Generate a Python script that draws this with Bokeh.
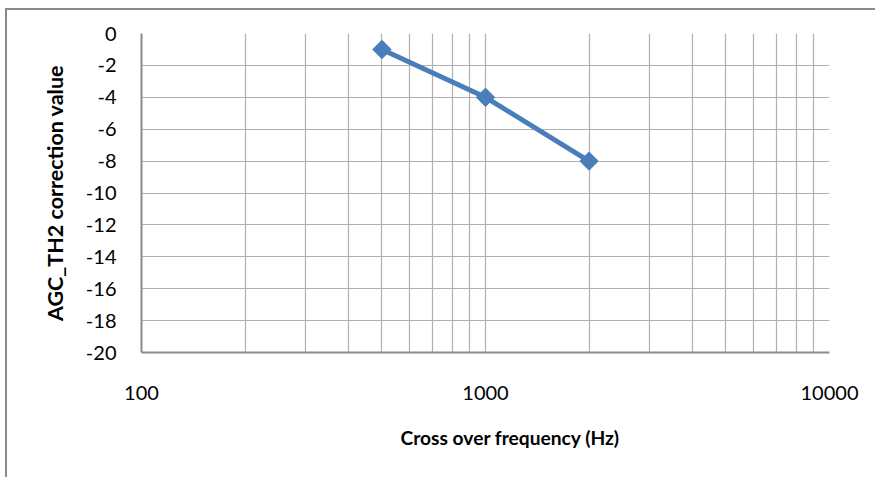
from bokeh.plotting import figure
from bokeh.models import Range1d, FixedTicker, Title, CustomJSTickFormatter
from bokeh.embed import file_html
from bokeh.resources import INLINE

# data
freq_hz = [500, 1000, 2000]
agc_th2_correction = [-1, -4, -8]

x_major_ticks = [100, 1000, 10000]
x_minor_ticks = [200, 300, 400, 500, 600, 700, 800, 900,
                 2000, 3000, 4000, 5000, 6000, 7000, 8000, 9000]
y_ticks = [0, -2, -4, -6, -8, -10, -12, -14, -16, -18, -20]

x_title = "Cross over frequency (Hz)"
y_title = "AGC_TH2 correction value"

FONT = "Lato"
GRID = "#b0b0b0"
AXIS = "#8a8a8a"
BLUE = "#4a7ebb"

p = figure(width=870, height=469, x_axis_type="log",
           x_range=Range1d(100, 10000), y_range=Range1d(-20, 0),
           output_backend="svg", toolbar_location=None,
           min_border_left=134, min_border_right=48,
           min_border_top=23, min_border_bottom=127)
p.outline_line_color = None
p.background_fill_color = "white"
p.border_fill_color = "white"
p.styles = {"margin-left": "5px", "margin-top": "8px",
            "border-left": "2px solid #8a8a8a", "border-top": "2px solid #8a8a8a"}

xt = FixedTicker(ticks=x_major_ticks, minor_ticks=x_minor_ticks)
p.xaxis.ticker = xt
p.xgrid.ticker = xt
p.yaxis.ticker = FixedTicker(ticks=y_ticks)
p.ygrid.ticker = FixedTicker(ticks=y_ticks)

p.xgrid.grid_line_color = GRID
p.xgrid.grid_line_width = 1.2
p.xgrid.minor_grid_line_color = GRID
p.xgrid.minor_grid_line_width = 1.2
p.ygrid.grid_line_color = GRID
p.ygrid.grid_line_width = 1.2

for ax in (p.xaxis, p.yaxis):
    ax.axis_line_color = AXIS
    ax.axis_line_width = 2
    ax.major_tick_out = 0
    ax.major_tick_in = 0
    ax.minor_tick_out = 0
    ax.minor_tick_in = 0
    ax.major_label_text_font = FONT
    ax.major_label_text_font_size = "20px"
    ax.major_label_text_color = "#000000"
    ax.formatter = CustomJSTickFormatter(code="return tick.toFixed(0);")

p.xaxis.major_label_standoff = 33
p.yaxis.major_label_standoff = 25

p.yaxis.axis_label = y_title
p.yaxis.axis_label_text_font = FONT
p.yaxis.axis_label_text_font_style = "bold"
p.yaxis.axis_label_text_font_size = "21.5px"
p.yaxis.axis_label_text_color = "#000000"
p.yaxis.axis_label_standoff = 15

t = Title(text=x_title, align="left", offset=259, standoff=43,
          text_font=FONT, text_font_style="bold", text_font_size="19.2px",
          text_color="#000000")
p.add_layout(t, "below")

p.line(freq_hz, agc_th2_correction, line_color=BLUE, line_width=5)
p.scatter(freq_hz, agc_th2_correction, marker="square", angle=0.785398,
          size=13, fill_color=BLUE, line_color=BLUE)

open("out.html", "w").write(file_html(p, INLINE))
